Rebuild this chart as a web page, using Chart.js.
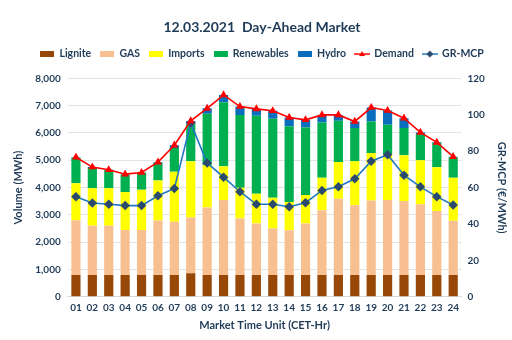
<!DOCTYPE html>
<html>
<head>
<meta charset="utf-8">
<script src="https://cdn.jsdelivr.net/npm/chart.js@4"></script>
<style>
  body { margin: 0; background: #fff; }
  #c { display: block; }
</style>
</head>
<body>
<canvas id="c" width="512" height="340"></canvas>
<script>
// hourly data, 12.03.2021
const hours = ['01','02','03','04','05','06','07','08','09','10','11','12','13','14','15','16','17','18','19','20','21','22','23','24'];
const lignite = [800,800,800,800,800,800,800,860,800,800,800,800,800,800,800,800,800,800,800,800,800,800,800,800];
const gas = [2000,1800,1800,1650,1650,1990,1945,2040,2465,2745,2065,1880,1700,1640,1880,2370,2790,2550,2730,2745,2705,2585,2340,1980];
const imports = [1355,1370,1370,1385,1470,1470,1830,2060,1555,1235,1125,1095,1130,1030,1045,1190,1350,1610,1735,1685,1675,1615,1605,1580];
const renewables = [935,750,665,645,620,640,875,1360,1880,2340,2670,2850,2885,2770,2475,2025,1505,1220,1155,1070,1000,960,885,750];
const hydro = [20,30,15,10,10,30,100,120,200,270,305,255,295,325,280,275,215,240,510,520,360,60,25,20];
const demand = [5110,4750,4650,4490,4550,4930,5550,6440,6900,7390,6965,6880,6810,6565,6480,6660,6660,6420,6930,6820,6540,6020,5655,5130];
const mcp = [55.0,51.5,50.8,50.1,50.1,55.5,59.5,95.4,73.5,65.7,57.7,50.8,50.8,49.5,51.7,58.4,60.4,64.8,74.5,78.0,66.8,60.4,55.0,50.4];

const textCol = '#1f3b57';
const font = 'Lato, "DejaVu Sans", sans-serif';

// little legend symbols
function boxIcon(color) {
  const cv = document.createElement('canvas');
  cv.width = 14; cv.height = 6;
  const g = cv.getContext('2d');
  g.fillStyle = color;
  g.fillRect(0, 0, 14, 6);
  return cv;
}
function lineIcon(color, marker, markerCol) {
  const cv = document.createElement('canvas');
  cv.width = 16; cv.height = 8;
  const g = cv.getContext('2d');
  g.strokeStyle = color; g.lineWidth = 1.5;
  g.beginPath(); g.moveTo(0, 4); g.lineTo(16, 4); g.stroke();
  g.fillStyle = markerCol;
  g.beginPath();
  if (marker === 'tri') {
    g.moveTo(8, 1); g.lineTo(11, 6); g.lineTo(5, 6);
  } else {
    g.moveTo(8, 0.5); g.lineTo(11.5, 4); g.lineTo(8, 7.5); g.lineTo(4.5, 4);
  }
  g.closePath(); g.fill();
  return cv;
}

function bar(label, data, color) {
  return { type: 'bar', label: label, data: data, backgroundColor: color,
    yAxisID: 'y', stack: 'vol', order: 2, barPercentage: 0.56, categoryPercentage: 1,
    icon: boxIcon(color) };
}

const datasets = [
  bar('Lignite', lignite, '#974706'),
  bar('GAS', gas, '#f8bf90'),
  bar('Imports', imports, '#ffff00'),
  bar('Renewables', renewables, '#00b050'),
  bar('Hydro', hydro, '#0a6ebd'),
  { type: 'line', label: 'Demand', data: demand, yAxisID: 'y', order: 0,
    borderColor: '#ff0000', borderWidth: 1.6, pointStyle: 'triangle', pointRadius: 3,
    pointBackgroundColor: '#ff0000', pointBorderColor: '#ff0000',
    icon: lineIcon('#ff0000', 'tri', '#ff0000') },
  { type: 'line', label: 'GR-MCP', data: mcp, yAxisID: 'y1', order: 0,
    borderColor: '#1f78c1', borderWidth: 1.6, pointStyle: 'rectRot', pointRadius: 3.6,
    pointBackgroundColor: '#2c4a6e', pointBorderColor: '#2c4a6e',
    icon: lineIcon('#1f78c1', 'dia', '#2c4a6e') }
];

// a bit more room under the legend
const legendGap = {
  id: 'legendGap',
  beforeInit(chart) {
    const fit = chart.legend.fit;
    chart.legend.fit = function () {
      fit.bind(chart.legend)();
      this.height += 9;
    };
  }
};

new Chart(document.getElementById('c'), {
  data: { labels: hours, datasets: datasets },
  plugins: [legendGap],
  options: {
    responsive: false,
    animation: false,
    layout: { padding: { top: 13, left: 12, right: 0, bottom: 6 } },
    plugins: {
      title: {
        display: true, text: '12.03.2021  Day-Ahead Market', color: textCol,
        font: { family: font, size: 14, weight: 'bold' }, padding: { top: 6, bottom: 4 }
      },
      legend: {
        labels: {
          usePointStyle: true, pointStyleWidth: 14, boxHeight: 8,
          color: textCol, font: { family: font, size: 10.5, weight: 'bold' }, padding: 9,
          generateLabels: function (chart) {
            return chart.data.datasets.map((ds, i) => ({
              text: ds.label, pointStyle: ds.icon, datasetIndex: i,
              fontColor: textCol, lineWidth: 0, strokeStyle: 'transparent', fillStyle: 'transparent'
            }));
          }
        }
      },
      tooltip: { enabled: false }
    },
    scales: {
      x: {
        stacked: true,
        grid: { display: false, drawTicks: false },
        border: { color: '#d9d9d9' },
        ticks: { color: textCol, font: { family: font, size: 10, weight: 'bold' }, maxRotation: 0, padding: 5 },
        title: { display: true, text: 'Market Time Unit (CET-Hr)', color: textCol,
          font: { family: font, size: 11, weight: 'bold' }, padding: { top: 0, bottom: 2 } }
      },
      y: {
        stacked: true, min: 0, max: 8000,
        grid: { color: '#e3e3e3', drawTicks: false },
        border: { display: false },
        ticks: { stepSize: 1000, padding: 7, color: textCol, font: { family: font, size: 10, weight: 'bold' },
          callback: v => v.toLocaleString('en-US') },
        title: { display: true, text: 'Volume (MWh)', color: textCol,
          font: { family: font, size: 11, weight: 'bold' }, padding: { top: 0, bottom: 3 } }
      },
      y1: {
        position: 'right', min: 0, max: 120,
        grid: { display: false, drawTicks: false },
        border: { display: false },
        ticks: { stepSize: 20, padding: 6, color: textCol, font: { family: font, size: 10, weight: 'bold' } },
        title: { display: true, text: 'GR-MCP (€/MWh)', color: textCol,
          font: { family: font, size: 11, weight: 'bold' } }
      }
    }
  }
});
</script>
</body>
</html>
